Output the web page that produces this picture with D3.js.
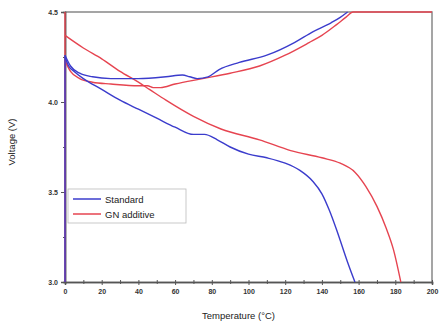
<!DOCTYPE html>
<html>
<head>
<meta charset="utf-8">
<script src="https://cdn.jsdelivr.net/npm/d3@7"></script>
<style>
  body { margin: 0; background: #fff; }
  text { font-family: "Liberation Sans", Arial, sans-serif; }
</style>
</head>
<body>
<div id="chart"></div>
<script>
// Standard cell, discharge branch (lower blue)
var stdDownT = [0, 2, 5, 10, 20, 30, 40, 50, 60, 70, 76, 83, 90, 100, 110, 120, 128, 135, 140, 144, 148, 151, 154, 158];
var stdDownV = [4.25, 4.2, 4.17, 4.13, 4.07, 4.01, 3.96, 3.91, 3.86, 3.82, 3.82, 3.79, 3.75, 3.71, 3.69, 3.66, 3.62, 3.56, 3.49, 3.40, 3.29, 3.20, 3.11, 3.0];
// Standard cell, upper branch
var stdUpT = [0, 3, 8, 15, 25, 40, 55, 64, 68, 72, 78, 84, 95, 110, 125, 135, 145, 150, 154];
var stdUpV = [4.26, 4.2, 4.16, 4.14, 4.13, 4.13, 4.14, 4.15, 4.14, 4.13, 4.14, 4.18, 4.22, 4.26, 4.33, 4.39, 4.44, 4.47, 4.5];
// Standard cell, rise at 0 °C
var stdRiseT = [0, 0];
var stdRiseV = [3.0, 4.26];
// GN additive, discharge branch (lower red)
var gnDownT = [0, 10, 20, 30, 40, 46, 55, 70, 85, 106, 123, 140, 150, 158, 164, 170, 175, 179, 183];
var gnDownV = [4.37, 4.30, 4.24, 4.17, 4.11, 4.07, 4.01, 3.92, 3.85, 3.79, 3.73, 3.69, 3.66, 3.61, 3.53, 3.42, 3.30, 3.18, 3.0];
// GN additive, upper branch
var gnUpT = [0, 3, 8, 15, 25, 40, 45, 48, 52, 60, 75, 90, 106, 120, 133, 140, 148, 153, 157, 200];
var gnUpV = [4.23, 4.17, 4.13, 4.11, 4.1, 4.09, 4.09, 4.08, 4.08, 4.1, 4.13, 4.16, 4.2, 4.26, 4.33, 4.37, 4.43, 4.47, 4.5, 4.5];
// GN additive, rise at 0 °C
var gnRiseT = [0, 0];
var gnRiseV = [3.0, 4.5];

var xTicks = [0, 20, 40, 60, 80, 100, 120, 140, 160, 180, 200];
var yTicks = [3.0, 3.5, 4.0, 4.5];
var seriesNames = ["Standard", "GN additive"];
var seriesColors = ["#3b3ccc", "#e64450"];

var margin = {top: 12, right: 8, bottom: 49, left: 65}
  , width = 440 - margin.left - margin.right
  , height = 331 - margin.top - margin.bottom;

var xScale = d3.scaleLinear().domain([0, 200]).range([0, width]);
var yScale = d3.scaleLinear().domain([3.0, 4.5]).range([height, 0]);

var svg = d3.select("#chart").append("svg")
    .attr("width", 440)
    .attr("height", 331)
  .append("g")
    .attr("transform", "translate(" + margin.left + "," + margin.top + ")");

// frame top and right
svg.append("path")
    .attr("d", "M0,0H" + width + "V" + height)
    .attr("fill", "none")
    .attr("stroke", "#888")
    .attr("stroke-width", 1.5);

svg.append("g")
    .attr("transform", "translate(0," + height + ")")
    .call(d3.axisBottom(xScale).tickValues(xTicks).tickFormat(d3.format("d")).tickSize(3).tickPadding(4));
svg.append("g")
    .attr("transform", "translate(0," + height + ")")
    .call(d3.axisBottom(xScale).tickValues(d3.range(10, 200, 20)).tickFormat("").tickSize(2));
svg.append("g")
    .attr("transform", "translate(0," + height + ")")
    .call(d3.axisTop(xScale).tickValues(d3.range(0, 201, 10)).tickFormat("").tickSize(2))
    .select(".domain").remove();

svg.append("g")
    .call(d3.axisLeft(yScale).tickValues(yTicks).tickFormat(d3.format(".1f")).tickSize(4).tickPadding(3));
svg.append("g")
    .call(d3.axisLeft(yScale).tickValues([3.25, 3.75, 4.25]).tickFormat("").tickSize(2));

svg.selectAll(".domain").attr("stroke", "#555").attr("stroke-width", 1.5);
svg.selectAll(".tick line").attr("stroke", "#555");
svg.selectAll(".tick text").style("font-size", "7px").style("font-weight", "bold").attr("fill", "#333");

function curve(ts, vs) {
  return ts.map(function(t, i) { return {x: t, y: vs[i]}; });
}

var smooth = d3.line()
    .curve(d3.curveMonotoneX)
    .x(function(d) { return xScale(d.x); })
    .y(function(d) { return yScale(d.y); });
var straight = d3.line()
    .x(function(d) { return xScale(d.x); })
    .y(function(d) { return yScale(d.y); });

var curves = [
  {data: curve(gnRiseT, gnRiseV), c: seriesColors[1], g: straight},
  {data: curve(gnDownT, gnDownV), c: seriesColors[1], g: smooth},
  {data: curve(gnUpT, gnUpV), c: seriesColors[1], g: smooth},
  {data: curve(stdRiseT, stdRiseV), c: seriesColors[0], g: straight},
  {data: curve(stdUpT, stdUpV), c: seriesColors[0], g: smooth},
  {data: curve(stdDownT, stdDownV), c: seriesColors[0], g: smooth}
];

curves.forEach(function(s) {
  svg.append("path")
      .datum(s.data)
      .attr("fill", "none")
      .attr("stroke", s.c)
      .attr("stroke-width", 1.4)
      .attr("stroke-linejoin", "round")
      .attr("d", s.g);
});

// legend
var lg = svg.append("g").attr("transform", "translate(3,177)");
lg.append("rect")
    .attr("width", 118).attr("height", 34)
    .attr("fill", "#fff").attr("stroke", "#bbb").attr("stroke-width", 0.8);
seriesNames.forEach(function(n, i) {
  lg.append("line")
      .attr("x1", 5).attr("x2", 33)
      .attr("y1", 10 + i * 15).attr("y2", 10 + i * 15)
      .attr("stroke", seriesColors[i]).attr("stroke-width", 1.5);
  lg.append("text")
      .attr("x", 37).attr("y", 13.5 + i * 15)
      .style("font-size", "9.5px")
      .attr("fill", "#222")
      .text(n);
});

svg.append("text")
    .attr("text-anchor", "middle")
    .attr("transform", "rotate(-90)")
    .attr("x", -height / 2 + 5)
    .attr("y", -50)
    .style("font-size", "9.5px")
    .attr("fill", "#222")
    .text("Voltage (V)");

svg.append("text")
    .attr("text-anchor", "middle")
    .attr("x", width / 2 - 10)
    .attr("y", height + 37)
    .style("font-size", "9.5px")
    .attr("fill", "#222")
    .text("Temperature (°C)");
</script>
</body>
</html>
